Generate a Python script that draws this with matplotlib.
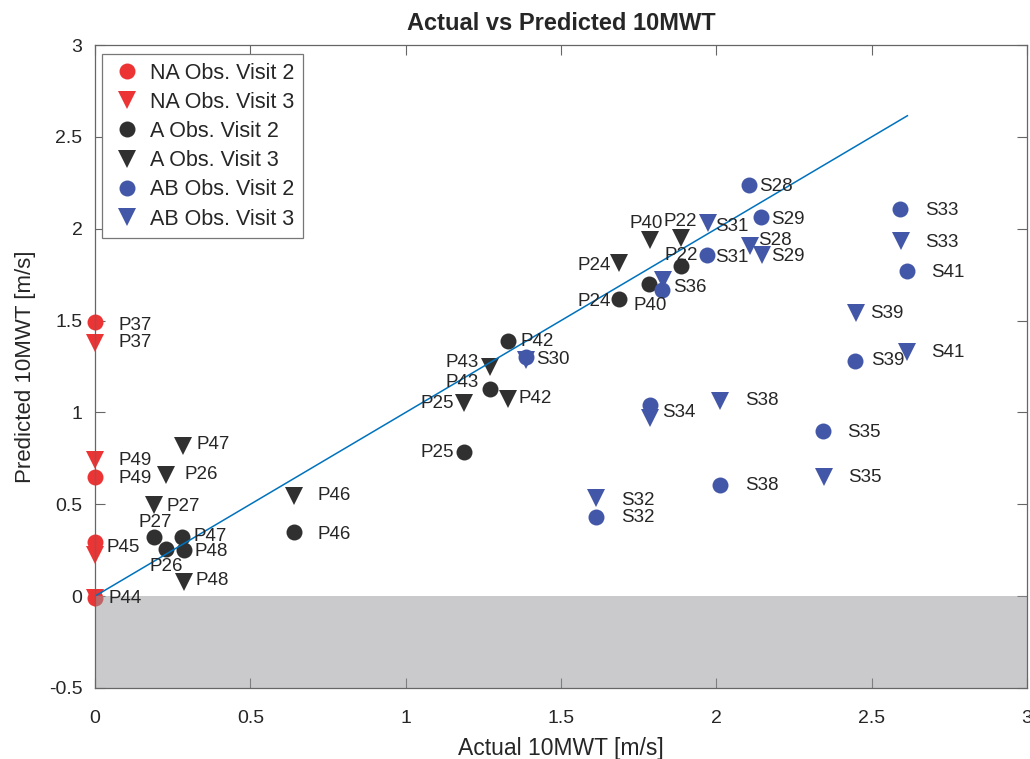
import matplotlib
matplotlib.use("Agg")
import matplotlib.pyplot as plt
import matplotlib.patches as mpatches

plt.rcParams['font.family'] = ['Liberation Sans', 'DejaVu Sans']

# ---------------- data ----------------
# NA group
na_ids = ["P37", "P49", "P45", "P44"]
na_actual_v2 = [0.0, 0.0, 0.0, 0.0]
na_pred_v2 = [1.49, 0.648, 0.292, -0.012]
na_actual_v3 = [0.0, 0.0, 0.0, 0.0]
na_pred_v3 = [1.379, 0.741, 0.226, -0.012]

# A group
a_ids = ["P42", "P43", "P25", "P24", "P40", "P22", "P27", "P47", "P26", "P48", "P46"]
a_actual_v2 = [1.328, 1.272, 1.188, 1.686, 1.783, 1.887, 0.189, 0.281, 0.229, 0.287, 0.639]
a_pred_v2 = [1.391, 1.128, 0.783, 1.617, 1.700, 1.795, 0.320, 0.322, 0.255, 0.250, 0.349]
a_actual_v3 = [1.328, 1.272, 1.188, 1.688, 1.785, 1.887, 0.190, 0.282, 0.229, 0.288, 0.640]
a_pred_v3 = [1.073, 1.250, 1.050, 1.816, 1.936, 1.949, 0.496, 0.819, 0.659, 0.078, 0.545]

# AB group
ab_ids = ["S28", "S29", "S31", "S36", "S30", "S33", "S41", "S39", "S35", "S34", "S38", "S32"]
ab_actual_v2 = [2.105, 2.145, 1.970, 1.826, 1.387, 2.591, 2.613, 2.446, 2.344, 1.785, 2.011, 1.613]
ab_pred_v2 = [2.240, 2.062, 1.855, 1.668, 1.301, 2.109, 1.771, 1.282, 0.901, 1.041, 0.605, 0.432]
ab_actual_v3 = [2.107, 2.148, 1.973, 1.828, 1.387, 2.594, 2.615, 2.448, 2.346, 1.787, 2.011, 1.613]
ab_pred_v3 = [1.907, 1.858, 2.031, 1.722, 1.288, 1.931, 1.331, 1.541, 0.650, 0.968, 1.064, 0.532]

# ---------------- styles ----------------
c_na = '#ec3434'
c_a = '#303030'
c_ab = '#4357a8'
txt_col = '#262626'

# label offsets in pixels: (dx, dy_down, ha); None = label hidden
lab_off = {
    ('NA', 2): {"P37": (23, 3, 'left'), "P49": (24, 1, 'left'), "P45": (11, 5, 'left'), "P44": (13, 0, 'left')},
    ('NA', 3): {"P37": (23, 0, 'left'), "P49": (24, 0, 'left'), "P45": None, "P44": None},
    ('A', 2): {"P42": (13, 1, 'left'), "P43": (-11, -6, 'right'), "P25": (-10, 0, 'right'),
               "P24": (-8, 2, 'right'), "P40": (18, 22, 'right'), "P22": (17, -11, 'right'),
               "P27": (18, -15, 'right'), "P47": (11, 0, 'left'), "P26": (17, 17, 'right'),
               "P48": (10, 1, 'left'), "P46": (24, 2, 'left')},
    ('A', 3): {"P42": (11, -1, 'left'), "P43": (-11, -4, 'right'), "P25": (-10, 0, 'right'),
               "P24": (-9, 3, 'right'), "P40": (13, -17, 'right'), "P22": (16, -17, 'right'),
               "P27": (12, 1, 'left'), "P47": (14, -1, 'left'), "P26": (18, -1, 'left'),
               "P48": (11, -1, 'left'), "P46": (24, -1, 'left')},
    ('AB', 2): {"S28": (10, 2, 'left'), "S29": (10, 2, 'left'), "S31": (8, 2, 'left'),
                "S36": (11, -2, 'left'), "S30": (10, 2, 'left'), "S33": (25, 2, 'left'),
                "S41": (24, 2, 'left'), "S39": (16, 0, 'left'), "S35": (24, 2, 'left'),
                "S34": (13, 8, 'left'), "S38": (25, 1, 'left'), "S32": (25, 1, 'left')},
    ('AB', 3): {"S28": (9, -5, 'left'), "S29": (9, 2, 'left'), "S31": (7, 3, 'left'),
                "S36": None, "S30": None, "S33": (24, 1, 'left'),
                "S41": (24, 1, 'left'), "S39": (15, 0, 'left'), "S35": (24, 1, 'left'),
                "S34": None, "S38": (25, 0, 'left'), "S32": (25, 2, 'left')},
}

fig = plt.figure(figsize=(10.3, 7.59), dpi=100)
ax = fig.add_axes([95 / 1030, (759 - 688) / 759, (1027 - 95) / 1030, (688 - 45) / 759])

ms = 11.5
groups = [
    ('NA', c_na, na_ids, na_actual_v2, na_pred_v2, na_actual_v3, na_pred_v3),
    ('A', c_a, a_ids, a_actual_v2, a_pred_v2, a_actual_v3, a_pred_v3),
    ('AB', c_ab, ab_ids, ab_actual_v2, ab_pred_v2, ab_actual_v3, ab_pred_v3),
]
handles = []
for name, col, ids, x2, y2, x3, y3 in groups:
    for visit, xs, ys, mk in ((2, x2, y2, 'o'), (3, x3, y3, 'v')):
        h, = ax.plot(xs, ys, linestyle='none', marker=mk, color=col, markersize=ms if mk == 'o' else ms + 1,
                     markeredgewidth=0, zorder=3, clip_on=False,
                     label=f"{name} Obs. Visit {visit}")
        handles.append(h)
        offs = lab_off[(name, visit)]
        for lab, xv, yv in zip(ids, xs, ys):
            o = offs.get(lab)
            if o is None:
                continue
            dx, dy, ha = o
            ax.annotate(lab, (xv, yv), xytext=(dx, -dy), textcoords='offset pixels',
                        ha=ha, va='center', fontsize=13.5, color=txt_col, zorder=6)

# identity line up to the max actual value
all_x = na_actual_v2 + na_actual_v3 + a_actual_v2 + a_actual_v3 + ab_actual_v2 + ab_actual_v3
xmax = max(all_x)
ax.plot([0, xmax], [0, xmax], color='#0072bd', linewidth=1.1, zorder=4)

# shaded negative region
ax.add_patch(mpatches.Rectangle((0, -0.5), 3, 0.5, facecolor='#96979a', alpha=0.5,
                                edgecolor='none', zorder=5))

ax.set_xlim(0, 3)
ax.set_ylim(-0.5, 3)
ax.set_xticks([0, 0.5, 1, 1.5, 2, 2.5, 3])
ax.set_xticklabels(['0', '0.5', '1', '1.5', '2', '2.5', '3'])
ax.set_yticks([-0.5, 0, 0.5, 1, 1.5, 2, 2.5, 3])
ax.set_yticklabels(['-0.5', '0', '0.5', '1', '1.5', '2', '2.5', '3'])
ax.tick_params(direction='in', length=7, width=0.8, color='#666666', labelsize=14,
               labelcolor=txt_col, top=True, right=True, pad=9)
ax.tick_params(axis='x', pad=16)
for sp in ax.spines.values():
    sp.set_color('#666666')
    sp.set_linewidth(0.9)
    sp.set_zorder(7)

ax.set_xlabel('Actual 10MWT [m/s]', fontsize=16.5, color=txt_col, labelpad=7)
ax.set_ylabel('Predicted 10MWT [m/s]', fontsize=16, color=txt_col, labelpad=9)
ax.set_title('Actual vs Predicted 10MWT', fontsize=17, fontweight='bold', color=txt_col, pad=11)

leg = ax.legend(handles=handles, loc='upper left', bbox_to_anchor=(7 / 932, 1 - 9 / 643),
                fontsize=15.5, frameon=True, fancybox=False, edgecolor='#777777',
                framealpha=1, borderpad=0.4, labelspacing=0.38, handletextpad=0.35,
                handlelength=1.5, borderaxespad=0, markerscale=1.0)
leg.get_frame().set_linewidth(0.9)
leg.set_zorder(8)
for t in leg.get_texts():
    t.set_color(txt_col)

fig.savefig('out.png', dpi=100)
